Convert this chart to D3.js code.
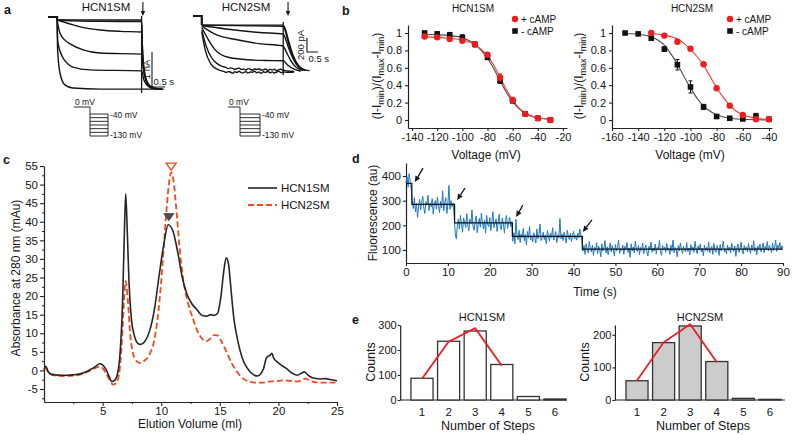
<!DOCTYPE html>
<html><head><meta charset="utf-8">
<script src="https://cdn.jsdelivr.net/npm/d3@7"></script>
<style>body{margin:0;background:#fff}svg{display:block}</style>
</head><body>
<svg id="c" width="793" height="435"></svg>
<script>
// ================= DATA =================
// Panel a: current traces [time (s), current]
const a1Hold = [[0,0],[0.35,0],[0.35,-0.086]];
const a1Traces = [
 [[0.35,-0.086],[3.6,-0.086],[3.63,-1.0],[3.68,-1.5],[3.76,-1.8],[3.88,-1.97],[4.05,-2.04],[4.4,-2.06]],
 [[0.35,-0.086],[1.0,-0.11],[2.0,-0.125],[3.6,-0.13],[3.64,-1.05],[3.7,-1.55],[3.8,-1.85],[3.95,-2.0],[4.2,-2.05],[4.45,-2.06]],
 [[0.35,-0.086],[0.85,-0.2],[1.42,-0.31],[2.0,-0.37],[2.8,-0.41],[3.6,-0.43],[3.65,-1.15],[3.72,-1.6],[3.83,-1.88],[4.0,-2.02],[4.3,-2.06]],
 [[0.35,-0.086],[0.46,-0.46],[0.65,-0.66],[0.85,-0.77],[1.35,-0.94],[2.0,-1.03],[3.6,-1.06],[3.66,-1.45],[3.75,-1.75],[3.9,-1.95],[4.1,-2.03],[4.35,-2.06]],
 [[0.35,-0.086],[0.38,-0.74],[0.58,-1.17],[0.77,-1.34],[0.96,-1.43],[1.62,-1.51],[3.6,-1.54],[3.68,-1.78],[3.8,-1.94],[3.98,-2.03],[4.2,-2.06]],
 [[0.35,-0.086],[0.37,-0.94],[0.46,-1.6],[0.65,-1.94],[0.96,-2.03],[2.0,-2.06],[3.6,-2.06],[4.4,-2.06]]
];
const a1Marker = [[3.6,0.03],[3.6,-2.17]];
const a2Hold = [[0,0],[0.4,0],[0.4,-130]];
const a2Traces = [
 [[0.4,-130],[4.1,-130],[4.2,-190],[4.35,-360],[4.55,-560],[4.8,-710],[5.1,-770],[5.3,-780]],
 [[0.4,-130],[2.0,-138],[4.1,-148],[4.2,-220],[4.35,-400],[4.55,-590],[4.8,-725],[5.1,-775]],
 [[0.4,-135],[1.5,-185],[3.0,-235],[4.1,-257],[4.2,-320],[4.35,-460],[4.55,-610],[4.8,-730],[5.1,-780]],
 [[0.4,-145],[1.0,-260],[2.0,-340],[3.0,-395],[4.1,-430],[4.25,-520],[4.45,-640],[4.7,-735],[5.0,-780]],
 [[0.4,-165],[0.7,-340],[1.0,-480],[1.6,-590],[2.5,-625],[3.3,-635],[4.1,-640],[4.3,-700],[4.6,-760],[4.9,-790]],
 [[0.4,-200],[0.6,-430],[0.85,-600],[1.1,-680],[1.3,-715],[1.5,-735],[1.6,-752],[1.7,-741],[1.8,-749],[1.9,-763],[2.0,-751],[2.1,-744],[2.2,-766],[2.3,-758],[2.4,-771],[2.5,-752],[2.6,-760],[2.7,-775],[2.8,-757],[2.9,-764],[3.0,-753],[3.1,-772],[3.2,-769],[3.3,-758],[3.4,-779],[3.5,-762],[3.6,-770],[3.7,-760],[3.8,-781],[3.9,-768],[4.0,-761],[4.1,-774],[4.3,-785],[4.6,-792]],
 [[0.4,-230],[0.55,-480],[0.8,-680],[1.1,-760],[1.3,-785],[1.4,-792],[1.5,-806],[1.6,-795],[1.7,-800],[1.8,-818],[1.9,-797],[2.0,-805],[2.1,-790],[2.2,-812],[2.3,-808],[2.4,-794],[2.5,-815],[2.6,-799],[2.7,-803],[2.8,-788],[2.9,-810],[3.0,-801],[3.1,-819],[3.2,-796],[3.3,-806],[3.4,-792],[3.5,-811],[3.6,-798],[3.7,-814],[3.8,-800],[3.9,-791],[4.0,-809],[4.1,-800],[4.3,-805],[4.6,-800]]
];
const a2Marker = [[4.1,-86],[4.1,-843]];
const protocolSteps = [-40,-55,-70,-85,-100,-115,-130];

// Panel b: normalized conductance vs voltage
const bVolt1 = [-130,-120,-110,-100,-90,-80,-70,-60,-50,-40,-30];
const b1Plus = [0.96,0.95,0.93,0.91,0.87,0.75,0.49,0.23,0.07,0.02,0.0];
const b1PlusErr = [0.01,0.01,0.015,0.015,0.02,0.02,0.04,0.03,0.01,0.01,0.01];
const b1Minus = [1.0,0.99,0.98,0.95,0.87,0.72,0.45,0.22,0.07,0.02,0.0];
const b1MinusErr = [0.02,0.015,0.015,0.03,0.03,0.02,0.03,0.02,0.01,0.01,0.01];
const b1FitMinus = [[-130,0.985],[-120,0.98],[-110,0.97],[-100,0.945],[-90,0.87],[-85,0.8],[-80,0.71],[-75,0.59],[-70,0.45],[-65,0.32],[-60,0.21],[-55,0.13],[-50,0.075],[-40,0.025],[-30,0.008]];
const b1FitPlus = [[-130,0.955],[-120,0.95],[-110,0.94],[-100,0.92],[-90,0.865],[-85,0.81],[-80,0.74],[-75,0.63],[-70,0.49],[-65,0.35],[-60,0.23],[-55,0.14],[-50,0.08],[-40,0.025],[-30,0.008]];
const bVolt2Minus = [-150,-140,-130,-120,-110,-100,-90,-80,-70,-60,-50,-40];
const b2Minus = [1.0,0.99,0.94,0.815,0.635,0.38,0.15,0.04,0.02,0.012,0.046,0.008];
const b2MinusErr = [0.01,0.01,0.02,0.025,0.06,0.07,0.03,0.01,0.01,0.01,0.03,0.01];
const bVolt2Plus = [-130,-120,-110,-100,-90,-80,-70,-60,-50,-40];
const b2Plus = [1.0,0.97,0.9,0.82,0.64,0.365,0.165,0.058,0.008,0.008];
const b2PlusErr = [0.01,0.01,0.02,0.02,0.01,0.01,0.01,0.01,0.01,0.01];
const b2FitMinus = [[-150,0.995],[-140,0.985],[-130,0.955],[-125,0.92],[-120,0.86],[-115,0.76],[-110,0.64],[-105,0.5],[-100,0.37],[-95,0.25],[-90,0.16],[-85,0.1],[-80,0.06],[-70,0.02],[-60,0.008],[-40,0.0]];
const b2FitPlus = [[-130,0.995],[-120,0.975],[-110,0.93],[-105,0.88],[-100,0.81],[-95,0.73],[-90,0.63],[-85,0.5],[-80,0.37],[-75,0.26],[-70,0.17],[-65,0.1],[-60,0.06],[-50,0.02],[-40,0.006]];
const bXTicks1 = [-140,-120,-100,-80,-60,-40,-20];
const bXTicks2 = [-160,-140,-120,-100,-80,-60,-40];
const bYTicks = [0,0.2,0.4,0.6,0.8,1];

// Panel c: chromatograms [volume (ml), absorbance (mAu)]
const cHCN1 = [[0,0.2],[0.15,1.1],[0.35,-0.3],[0.6,-1.0],[1,-1.2],[1.5,-1.3],[2,-1.3],[2.5,-1.2],[3,-1.0],[3.5,-0.5],[4,0.3],[4.4,1.1],[4.75,1.8],[5.0,1.5],[5.3,0.2],[5.55,-1.6],[5.8,-3.0],[6.05,-2.6],[6.3,-0.5],[6.5,5],[6.7,18],[6.85,36],[6.97,47.5],[7.1,38],[7.25,24],[7.45,14],[7.7,9.5],[8.0,7.3],[8.25,7],[8.6,7.8],[9.0,10.5],[9.4,16],[9.8,25],[10.2,33.5],[10.6,39.2],[11.0,37.5],[11.4,32],[11.8,25],[12.2,20.5],[12.6,18],[13.0,16.5],[13.5,14.8],[13.9,14.6],[14.2,15],[14.5,14.8],[14.8,15.3],[15.1,20],[15.35,27],[15.55,30.3],[15.75,28.5],[15.95,22],[16.2,14],[16.5,8.5],[16.9,3.5],[17.3,0.8],[17.8,-1.0],[18.2,-1.5],[18.7,0.2],[19.0,3.5],[19.3,4.1],[19.45,4.6],[19.6,3.3],[19.9,2.3],[20.3,1.3],[20.7,0.5],[21.1,-0.6],[21.6,-1.3],[22.0,-0.7],[22.2,-0.4],[22.5,-1.2],[22.9,-2.0],[23.5,-2.3],[24.0,-2.2],[24.5,-2.5],[25,-2.8]];
const cHCN2 = [[0,0.5],[0.15,0.6],[0.35,-0.5],[0.6,-1.1],[1,-1.4],[1.5,-1.5],[2,-1.5],[2.5,-1.4],[3,-1.2],[3.5,-0.7],[4,0],[4.4,0.7],[4.75,1.0],[5.0,0.6],[5.3,-0.8],[5.6,-2.6],[5.9,-3.8],[6.2,-3.3],[6.45,0],[6.65,8],[6.85,20],[6.97,24],[7.15,19],[7.35,10],[7.6,4.5],[7.9,2.5],[8.2,2.0],[8.6,2.7],[9.0,4.3],[9.4,8],[9.8,17],[10.1,28],[10.4,41],[10.65,50],[10.85,53.3],[11.05,51],[11.3,43],[11.6,32],[11.9,24],[12.3,18],[12.7,14],[13.1,10.5],[13.5,8.5],[13.8,7.8],[14.1,8.3],[14.5,9.5],[14.8,9.4],[15.1,8],[15.5,5.5],[16.0,2.0],[16.5,-0.5],[17.0,-2.2],[17.5,-3.0],[18.0,-3.3],[18.6,-3.3],[19.2,-3.0],[19.8,-2.9],[20.4,-2.7],[21.0,-2.8],[21.6,-3.0],[22.0,-2.6],[22.3,-2.2],[22.7,-2.8],[23.2,-3.2],[24,-3.3],[25,-3.3]];
const cPeakMarks = [{v:10.85, a:53.9, open:true},{v:10.65, a:40.3, open:false}];
const cYTicks = [-5,0,5,10,15,20,25,30,35,40,45,50,55];
const cYMinor = [-7.5,-2.5,2.5,7.5,12.5,17.5,22.5,27.5,32.5,37.5,42.5,47.5,52.5];
const cXTicks = [5,10,15,20,25];
const cXMinor = [2.5,7.5,12.5,17.5,22.5];

// Panel d: photobleaching trace, sampled every 0.25 s
const dDt = 0.25;
const dFluor = [
 372,398,355,410,380,346,
 300,268,312,255,290,232,275,305,262,295, 318,270,248,296,283,322,260,290,275,308,
 245,288,300,266,315,280,252,298,270,340, 258,292,312,248,285,362,265,300,275,290,
 240,168,145,198,226,185,240,205,172,230, 212,190,248,200,178,225,208,262,195,180,
 215,238,170,205,228,192,250,210,185,222, 168,240,205,195,232,178,215,255,190,208,
 226,175,212,245,198,182,230,205,168,220, 240,188,210,232,195,215,
 135,170,125,225,160,142,180,130,165,150, 188,138,162,120,175,148,195,140,158,132,
 170,152,128,185,145,162,205,138,150,172, 142,160,125,178,155,135,168,150,190,140,
 158,175,130,162,148,228,145,165,138,172, 150,128,180,155,142,168,135,160,175,145,
 158,140,168,150,185,160,
 140,95,118,82,125,100,88,135,105,92, 120,78,110,98,130,85,115,102,72,125,
 95,108,138,88,112,80,104,128,92,118, 100,75,122,95,110,140,86,105,98,120,
 82,115,100,130,90,108,70,125,96,112, 88,135,102,94,118,80,110,98,128,85,
 106,120,92,75,115,100,132,90,108,96, 124,84,110,102,138,92,78,118,100,112,
 90,126,98,106,82,120,95,140,88,110, 102,72,118,96,128,105,86,114,100,92,
 130,94,108,80,122,98,112,90,135,102, 85,116,100,124,92,106,76,120,98,110,
 94,132,88,104,115,82,126,100,90,118, 106,78,122,96,110,136,92,104,84,120,
 98,112,88,128,102,94,116,74,108,124, 90,106,132,96,84,118,100,112,92,126,
 104,86,120,98,138,94,110,80,116,102, 124,92,108,128,88,114,100,134,96,118,
 106,90,128,98,112,140,94,120,104,130, 100,116,108
];
const dStepTimes = [0,1.4,11.6,25.4,42.1,90];
const dStepLevels = [370,285,210,155,103];
const dArrows = [[4.06,432,2.1,376],[14.1,351,12.2,303],[27.9,282,26.3,234],[44.4,222,42.2,173]];
const dXTicks = [0,10,20,30,40,50,60,70,80,90];
const dYTicks = [100,200,300,400];

// Panel e: step-count histograms
const eSteps = [1,2,3,4,5,6];
const e1Counts = [87,235,276,142,14,4];
const e1Binom = [85,233,287,137];
const e2Counts = [59,176,227,118,5,2];
const e2Binom = [60,177,232,116];
const e1YTicks = [0,100,200,300];
const e2YTicks = [0,100,200];

// ================= DRAWING =================
const FONT = '"Liberation Sans", Arial, Helvetica, sans-serif';
const svg = d3.select("#c").attr("font-family", FONT);
const INK = "#151515";

function txt(x, y, s, o = {}) {
  const t = svg.append("text").attr("x", x).attr("y", y).text(s)
    .attr("font-size", o.fs || 11).attr("fill", o.fill || INK)
    .attr("text-anchor", o.anchor || "start");
  if (o.bold) t.attr("font-weight", "bold");
  if (o.rot) t.attr("transform", `rotate(-90,${x},${y})`);
  return t;
}
function styleAxis(g, fs) {
  g.attr("font-family", FONT).attr("font-size", fs);
  g.select(".domain").attr("stroke", "#222").attr("stroke-width", 1.2);
  g.selectAll(".tick line").attr("stroke", "#222").attr("stroke-width", 1.1);
  g.selectAll(".tick text").attr("fill", INK);
  return g;
}
function arrow(x1, y1, x2, y2, hl, hw, sw) {
  const ang = Math.atan2(y2 - y1, x2 - x1);
  const bx = x2 - hl * Math.cos(ang), by = y2 - hl * Math.sin(ang);
  svg.append("line").attr("x1", x1).attr("y1", y1).attr("x2", bx).attr("y2", by)
    .attr("stroke", INK).attr("stroke-width", sw || 1.2);
  const px = -Math.sin(ang) * hw / 2, py = Math.cos(ang) * hw / 2;
  svg.append("path").attr("d", `M${x2},${y2}L${bx + px},${by + py}L${bx - px},${by - py}Z`).attr("fill", INK);
}
const fmtPlain = d => String(d);

// panel letters
txt(4, 14, "a", {fs: 12.5, bold: true});
txt(342, 15, "b", {fs: 12.5, bold: true});
txt(3, 164, "c", {fs: 12.5, bold: true});
txt(352, 163, "d", {fs: 12.5, bold: true});
txt(352, 324, "e", {fs: 12.5, bold: true});

// ---------- Panel a ----------
function panelA(cfg) {
  const xs = d3.scaleLinear().domain([0, 1]).range([cfg.x0, cfg.x0 + cfg.pxPerS]);
  const ys = d3.scaleLinear().domain([0, cfg.unit]).range([cfg.y0, cfg.y0 + cfg.pxPerUnit]);
  const line = d3.line().x(d => xs(d[0])).y(d => ys(d[1])).curve(d3.curveMonotoneX);
  const lin = d3.line().x(d => xs(d[0])).y(d => ys(d[1]));
  svg.append("path").attr("d", lin(cfg.hold)).attr("fill", "none").attr("stroke", INK).attr("stroke-width", 2.2);
  cfg.traces.forEach(tr => svg.append("path").attr("d", line(tr)).attr("fill", "none")
    .attr("stroke", INK).attr("stroke-width", 1.4));
  svg.append("path").attr("d", lin(cfg.marker)).attr("fill", "none").attr("stroke", INK).attr("stroke-width", 1.3);
  txt(cfg.titleX, 11, cfg.title, {fs: 11.5, anchor: "middle"});
  arrow(xs(cfg.arrowT), 2, xs(cfg.arrowT), 16, 5, 4.5, 1.1);
  const sb = cfg.scaleBar;
  svg.append("path").attr("d", lin([[sb.t, sb.i0], [sb.t, sb.i1], [sb.t + 0.5, sb.i1]]))
    .attr("fill", "none").attr("stroke", INK).attr("stroke-width", 1.1);
  const yMid = (ys(sb.i0) + ys(sb.i1)) / 2;
  txt(xs(sb.t) - 2.5, yMid, sb.label, {fs: 9.5, anchor: "middle", rot: true});
  txt(xs(sb.t) + 1.5, sb.textY, "0.5 s", {fs: 9.5});
  const p = cfg.prot;
  const yp = d3.scaleLinear().domain([-40, -130]).range([114, 136]);
  const g = svg.append("g").attr("stroke", INK).attr("stroke-width", 0.9).attr("fill", "none");
  g.append("path").attr("d", `M${p.x0},107H${p.x1}V${yp(-130)}`);
  protocolSteps.forEach(v => g.append("line").attr("x1", p.x1).attr("x2", p.x2).attr("y1", yp(v)).attr("y2", yp(v)));
  g.append("line").attr("x1", p.x2).attr("x2", p.x2).attr("y1", yp(-40)).attr("y2", yp(-130));
  txt(p.x0 + 1, 105, "0 mV", {fs: 8.5});
  txt(p.x2 + 2, yp(-40) + 3.5, "-40 mV", {fs: 8.5});
  txt(p.x2 + 2, yp(-130) + 2, "-130 mV", {fs: 8.5});
}
panelA({x0: 48, pxPerS: 26, y0: 17, unit: -1, pxPerUnit: 35, hold: a1Hold, traces: a1Traces, marker: a1Marker,
  title: "HCN1SM", titleX: 106, arrowT: 3.65,
  scaleBar: {t: 4.0, i0: -1.0, i1: -2.0, label: "1 nA", textY: 85},
  prot: {x0: 74, x1: 90, x2: 108}});
panelA({x0: 193, pxPerS: 22, y0: 16, unit: -100, pxPerUnit: 7, hold: a2Hold, traces: a2Traces, marker: a2Marker,
  title: "HCN2SM", titleX: 246, arrowT: 4.32,
  scaleBar: {t: 5.18, i0: -314, i1: -514, label: "200 pA", textY: 62},
  prot: {x0: 228, x1: 240, x2: 260}});

// ---------- Panel b ----------
const yB = d3.scaleLinear().domain([-0.092, 1.092]).range([128, 25]);
function panelB(cfg) {
  const xs = cfg.xs;
  const x0 = xs.range()[0];
  styleAxis(svg.append("g").attr("transform", `translate(${x0},0)`)
    .call(d3.axisLeft(yB).tickValues(bYTicks).tickFormat(d3.format("~g")).tickSize(3).tickPadding(3).tickSizeOuter(0)), 11);
  styleAxis(svg.append("g").attr("transform", `translate(0,${yB.range()[0]})`)
    .call(d3.axisBottom(xs).tickValues(cfg.xticks).tickFormat(fmtPlain).tickSize(3).tickPadding(2).tickSizeOuter(0)), 11);
  const line = d3.line().x(d => xs(d[0])).y(d => yB(d[1])).curve(d3.curveMonotoneX);
  svg.append("path").attr("d", line(cfg.fitMinus)).attr("fill", "none").attr("stroke", "#4a4a4a").attr("stroke-width", 1.1);
  svg.append("path").attr("d", line(cfg.fitPlus)).attr("fill", "none").attr("stroke", "#f03a3a").attr("stroke-width", 1.1);
  const drawSeries = (vs, ms, es, color, shape) => {
    vs.forEach((v, i) => {
      const cx = xs(v), lo = yB(ms[i] - es[i]), hi = yB(ms[i] + es[i]);
      svg.append("path").attr("d", `M${cx},${lo}V${hi}M${cx - 2},${lo}H${cx + 2}M${cx - 2},${hi}H${cx + 2}`)
        .attr("stroke", color).attr("stroke-width", 1).attr("fill", "none");
      if (shape === "sq") svg.append("rect").attr("x", cx - 2.8).attr("y", yB(ms[i]) - 2.8).attr("width", 5.6).attr("height", 5.6).attr("fill", color);
      else svg.append("circle").attr("cx", cx).attr("cy", yB(ms[i])).attr("r", 3.2).attr("fill", color);
    });
  };
  drawSeries(cfg.vMinus, cfg.minus, cfg.minusErr, "#111", "sq");
  drawSeries(cfg.vPlus, cfg.plus, cfg.plusErr, "#ee1c1c", "circ");
  txt(cfg.titleX, 12, cfg.title, {fs: 10, anchor: "middle"});
  svg.append("circle").attr("cx", cfg.legX).attr("cy", 19).attr("r", 3.2).attr("fill", "#ee1c1c");
  txt(cfg.legX + 6, 22.5, "+ cAMP", {fs: 10});
  svg.append("rect").attr("x", cfg.legX - 2.8).attr("y", 28.2).attr("width", 5.6).attr("height", 5.6).attr("fill", "#111");
  txt(cfg.legX + 6, 34.5, "- cAMP", {fs: 10});
  txt(cfg.xlabX, 159, "Voltage (mV)", {fs: 12, anchor: "middle"});
  const t = svg.append("text").attr("transform", `translate(${cfg.ylabX},76) rotate(-90)`)
    .attr("text-anchor", "middle").attr("font-size", 12).attr("fill", INK);
  const parts = [["(I-I", 0], ["min", 1], [")/(I", 0], ["max", 1], ["-I", 0], ["min", 1], [")", 0]];
  parts.forEach(([s, sub]) => {
    const ts = t.append("tspan").text(s);
    if (sub) ts.attr("font-size", 9).attr("dy", 3);
    else if (s !== "(I-I") ts.attr("dy", -3);
  });
}
panelB({xs: d3.scaleLinear().domain([-143.2, -16.8]).range([408, 567]), xticks: bXTicks1,
  vMinus: bVolt1, minus: b1Minus, minusErr: b1MinusErr, vPlus: bVolt1, plus: b1Plus, plusErr: b1PlusErr,
  fitMinus: b1FitMinus, fitPlus: b1FitPlus, title: "HCN1SM", titleX: 473, legX: 515, xlabX: 486, ylabX: 381});
panelB({xs: d3.scaleLinear().domain([-160, -37.7]).range([612, 772]), xticks: bXTicks2,
  vMinus: bVolt2Minus, minus: b2Minus, minusErr: b2MinusErr, vPlus: bVolt2Plus, plus: b2Plus, plusErr: b2PlusErr,
  fitMinus: b2FitMinus, fitPlus: b2FitPlus, title: "HCN2SM", titleX: 692, legX: 730, xlabX: 690, ylabX: 583});

// ---------- Panel c ----------
const xC = d3.scaleLinear().domain([0, 25]).range([44, 337]);
const yC = d3.scaleLinear().domain([-8.5, 55]).range([402, 166]);
styleAxis(svg.append("g").attr("transform", "translate(44,0)")
  .call(d3.axisLeft(yC).tickValues(cYTicks).tickFormat(fmtPlain).tickSize(4).tickPadding(2).tickSizeOuter(0)), 11.5);
svg.append("g").attr("transform", "translate(44,0)")
  .call(d3.axisLeft(yC).tickValues(cYMinor).tickFormat("").tickSize(2).tickSizeOuter(0))
  .call(g => { g.select(".domain").remove(); g.selectAll("line").attr("stroke", "#222"); });
styleAxis(svg.append("g").attr("transform", "translate(0,402)")
  .call(d3.axisBottom(xC).tickValues(cXTicks).tickFormat(fmtPlain).tickSize(4).tickPadding(1).tickSizeOuter(0)), 11.5);
svg.append("g").attr("transform", "translate(0,402)")
  .call(d3.axisBottom(xC).tickValues(cXMinor).tickFormat("").tickSize(2).tickSizeOuter(0))
  .call(g => { g.select(".domain").remove(); g.selectAll("line").attr("stroke", "#222"); });
const lineC = d3.line().x(d => xC(d[0])).y(d => yC(d[1])).curve(d3.curveMonotoneX);
svg.append("path").attr("d", lineC(cHCN2)).attr("fill", "none").attr("stroke", "#f04a1e")
  .attr("stroke-width", 1.8).attr("stroke-dasharray", "6,3");
svg.append("path").attr("d", lineC(cHCN1)).attr("fill", "none").attr("stroke", "#262626").attr("stroke-width", 1.6);
cPeakMarks.forEach(m => {
  const cx = xC(m.v), cy = yC(m.a);
  svg.append("path").attr("d", `M${cx},${cy}L${cx - 5},${cy - 7}L${cx + 5},${cy - 7}Z`)
    .attr("fill", m.open ? "#fff" : "#4d4d4d").attr("stroke", m.open ? "#f04a1e" : "#4d4d4d").attr("stroke-width", m.open ? 1.4 : 1);
});
svg.append("line").attr("x1", 248).attr("x2", 277).attr("y1", 188).attr("y2", 188).attr("stroke", "#262626").attr("stroke-width", 1.6);
txt(281, 192, "HCN1SM", {fs: 11.5});
svg.append("line").attr("x1", 248).attr("x2", 277).attr("y1", 205).attr("y2", 205).attr("stroke", "#f04a1e").attr("stroke-width", 1.8).attr("stroke-dasharray", "6,3");
txt(281, 209, "HCN2SM", {fs: 11.5});
txt(20, 278, "Absorbance at 280 nm (mAu)", {fs: 12, anchor: "middle", rot: true});
txt(190, 428, "Elution Volume (ml)", {fs: 12, anchor: "middle"});

// ---------- Panel d ----------
const xD = d3.scaleLinear().domain([0, 90]).range([406, 783]);
const yD = d3.scaleLinear().domain([47, 453]).range([263, 163]);
styleAxis(svg.append("g").attr("transform", "translate(406,0)")
  .call(d3.axisLeft(yD).tickValues(dYTicks).tickFormat(fmtPlain).tickSize(3).tickPadding(2).tickSizeOuter(0)), 11.5);
styleAxis(svg.append("g").attr("transform", "translate(0,263)")
  .call(d3.axisBottom(xD).tickValues(dXTicks).tickFormat(fmtPlain).tickSize(3).tickPadding(2).tickSizeOuter(0)), 11.5);
const lineD = d3.line().x((d, i) => xD(i * dDt)).y(d => yD(d));
svg.append("path").attr("d", lineD(dFluor)).attr("fill", "none").attr("stroke", "#1f78c8").attr("stroke-width", 1);
const stepPts = [];
dStepLevels.forEach((v, i) => { stepPts.push([dStepTimes[i], v]); stepPts.push([dStepTimes[i + 1], v]); });
svg.append("path").attr("d", d3.line().x(d => xD(d[0])).y(d => yD(d[1]))(stepPts))
  .attr("fill", "none").attr("stroke", "#111").attr("stroke-width", 1.2);
dArrows.forEach(a => arrow(xD(a[0]), yD(a[1]), xD(a[2]), yD(a[3]), 6, 5.5, 1.3));
txt(595, 296, "Time (s)", {fs: 12, anchor: "middle"});
txt(377, 213, "Fluorescence (au)", {fs: 12, anchor: "middle", rot: true});

// ---------- Panel e ----------
function panelE(cfg) {
  const xs = d3.scaleLinear().domain([0.5, 6.5]).range(cfg.xr);
  const ys = d3.scaleLinear().domain([0, cfg.ymax]).range([400, 325]);
  const axX = xs(cfg.axisAt);
  const bw = 0.83 * (xs(2) - xs(1));
  svg.append("line").attr("x1", axX).attr("x2", xs(cfg.axisEnd)).attr("y1", 400).attr("y2", 400)
    .attr("stroke", "#222").attr("stroke-width", 1.2);
  styleAxis(svg.append("g").attr("transform", `translate(${axX},0)`)
    .call(d3.axisLeft(ys).tickValues(cfg.yticks).tickFormat(fmtPlain).tickSize(2.5).tickPadding(1).tickSizeOuter(0)), 11);
  svg.selectAll(null).data(cfg.counts).enter().append("rect")
    .attr("x", (d, i) => xs(eSteps[i]) - bw / 2).attr("y", d => ys(d))
    .attr("width", bw).attr("height", d => 400 - ys(d))
    .attr("fill", cfg.fill).attr("stroke", "#333").attr("stroke-width", 1.3);
  svg.append("path").attr("d", d3.line().x((d, i) => xs(eSteps[i])).y(d => ys(d))(cfg.binom))
    .attr("fill", "none").attr("stroke", "#ee1c25").attr("stroke-width", 1.8);
  eSteps.forEach(s => txt(xs(s), 416, String(s), {fs: 11.5, anchor: "middle"}));
  txt(cfg.titleX, 321, cfg.title, {fs: 11, anchor: "middle"});
  txt(cfg.ylabX, 362, "Counts", {fs: 12.5, anchor: "middle", rot: true});
  txt(cfg.xlabX, 430, "Number of Steps", {fs: 12.5, anchor: "middle"});
}
panelE({xr: [408.7, 568.3], ymax: 300, axisAt: 0.18, axisEnd: 6.45, yticks: e1YTicks, counts: e1Counts,
  binom: e1Binom, fill: "#ffffff", title: "HCN1SM", titleX: 482, ylabX: 375, xlabX: 488});
panelE({xr: [623.7, 783.3], ymax: 230, axisAt: 0.17, axisEnd: 6.56, yticks: e2YTicks, counts: e2Counts,
  binom: e2Binom, fill: "#cccccc", title: "HCN2SM", titleX: 700, ylabX: 589, xlabX: 703});
</script>
</body></html>
